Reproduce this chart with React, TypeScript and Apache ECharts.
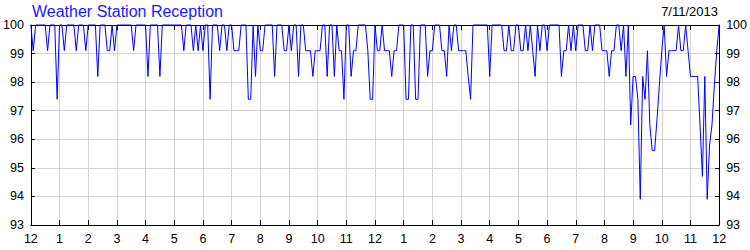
import React, { useEffect, useRef } from "react";
import * as echarts from "echarts";

const titleText = "Weather Station Reception";
const dateText = "7/11/2013";

const hourLabels = [
  "12", "1", "2", "3", "4", "5", "6", "7", "8", "9", "10", "11",
  "12", "1", "2", "3", "4", "5", "6", "7", "8", "9", "10", "11", "12",
];

const yMin = 93;
const yMax = 100;
const yStep = 1;

// reception % every 5 minutes, 12 per hour
const reception = [
  100, 99.1, 100, 100, 100, 100, 100, 99.1, 100, 100, 100, 97.4,
  100, 100, 99.1, 100, 100, 100, 100, 99.1, 100, 100, 100, 99.1,
  100, 100, 100, 100, 98.2, 100, 100, 100, 99.1, 99.1, 100, 99.1,
  100, 100, 100, 100, 100, 100, 100, 99.1, 100, 100, 100, 100,
  100, 98.2, 100, 100, 100, 100, 98.2, 100, 100, 100, 100, 100,
  100, 100, 100, 100, 99.1, 100, 100, 100, 99.1, 100, 99.1, 100,
  99.1, 100, 100, 97.4, 100, 100, 100, 99.1, 100, 100, 99.1, 100,
  100, 99.1, 99.1, 99.1, 100, 100, 100, 97.4, 97.4, 100, 98.2, 100,
  99.1, 99.1, 100, 100, 100, 100, 98.2, 100, 100, 100, 99.1, 99.1,
  100, 99.1, 100, 100, 98.2, 100, 100, 99.1, 99.1, 99.1, 98.2, 99.1,
  99.1, 99.1, 100, 100, 98.2, 100, 100, 98.2, 100, 99.1, 99.1, 97.4,
  100, 100, 98.2, 99.1, 99.1, 100, 100, 100, 100, 99.1, 97.4, 97.4,
  100, 99.1, 99.1, 100, 99.1, 99.1, 99.1, 98.2, 99.1, 99.1, 100, 100,
  100, 97.4, 97.4, 100, 100, 97.4, 97.4, 100, 100, 100, 98.2, 99.1,
  99.1, 100, 100, 100, 99.1, 99.1, 98.2, 100, 99.1, 100, 100, 99.1,
  99.1, 99.1, 99.1, 98.2, 97.4, 100, 100, 100, 100, 100, 100, 100,
  98.2, 100, 100, 100, 100, 100, 99.1, 99.1, 100, 99.1, 99.1, 100,
  100, 99.1, 99.1, 100, 99.1, 100, 99.1, 98.2, 100, 99.1, 100, 100,
  99.1, 100, 100, 100, 100, 100, 98.2, 99.1, 99.1, 100, 99.1, 100,
  99.1, 100, 100, 100, 99.1, 99.1, 100, 99.1, 100, 100, 100, 99.1,
  99.1, 99.1, 98.2, 99.1, 99.1, 100, 100, 99.1, 100, 98.2, 100, 96.5,
  98.2, 98.2, 97.4, 93.9, 98.2, 97.4, 99.1, 96.5, 95.6, 95.6, 96.7, 97.9,
  99.1, 100, 98.2, 99.1, 99.1, 99.1, 99.1, 100, 99.1, 99.1, 100, 99.1,
  98.2, 98.2, 98.2, 98.2, 96.5, 94.7, 98.2, 93.9, 95.8, 96.5, 97.9, 99.1,
  100,
];

const FONT = "'Liberation Sans', Arial, sans-serif";

export default function App() {
  const ref = useRef<HTMLDivElement>(null);

  useEffect(() => {
    if (!ref.current) return;
    const chart = echarts.init(ref.current, null, { renderer: "svg" });

    const categories = reception.map(
      (_, i) => `${hourLabels[Math.floor(i / 12)]}:${String((i % 12) * 5).padStart(2, "0")}`
    );
    const hourly = (i: number) => i % 12 === 0;

    const labelStyle = { color: "#000", fontSize: 12.5, fontFamily: FONT };

    const option: any = {
      animation: false,
      backgroundColor: "#fff",
      title: [
        {
          text: titleText,
          left: 32,
          top: 3,
          padding: 0,
          textStyle: { color: "#1a1aff", fontSize: 16, fontWeight: "normal", fontFamily: FONT },
        },
        {
          text: dateText,
          right: 32,
          top: 5,
          padding: 0,
          textStyle: { color: "#000", fontSize: 13, fontWeight: "normal", fontFamily: FONT },
        },
      ],
      grid: { left: 30, right: 30, top: 25, bottom: 25, containLabel: false },
      xAxis: [
        {
          type: "category",
          data: categories,
          boundaryGap: false,
          position: "bottom",
          axisLine: { show: true, onZero: false, lineStyle: { color: "#000", width: 1 } },
          axisTick: { show: true, inside: true, length: 5, interval: (i: number) => hourly(i), lineStyle: { color: "#000" } },
          axisLabel: {
            ...labelStyle,
            margin: 7,
            interval: (i: number) => hourly(i),
            formatter: (_v: string, i: number) => hourLabels[Math.floor(i / 12)],
          },
          splitLine: { show: true, interval: (i: number) => hourly(i), lineStyle: { color: "#d3d3d3", width: 1 } },
        },
        {
          type: "category",
          data: categories,
          boundaryGap: false,
          position: "top",
          axisLine: { show: true, onZero: false, lineStyle: { color: "#000", width: 1 } },
          axisTick: { show: true, inside: true, length: 5, interval: (i: number) => hourly(i), lineStyle: { color: "#000" } },
          axisLabel: { show: false },
          splitLine: { show: false },
        },
      ],
      yAxis: [
        {
          type: "value",
          min: yMin,
          max: yMax,
          interval: yStep,
          position: "left",
          axisLine: { show: true, onZero: false, lineStyle: { color: "#000", width: 1 } },
          axisTick: { show: true, inside: true, length: 4, lineStyle: { color: "#000" } },
          axisLabel: { ...labelStyle, margin: 7 },
          splitLine: { show: true, lineStyle: { color: "#d3d3d3", width: 1 } },
        },
        {
          type: "value",
          min: yMin,
          max: yMax,
          interval: yStep,
          position: "right",
          axisLine: { show: true, onZero: false, lineStyle: { color: "#000", width: 1 } },
          axisTick: { show: true, inside: true, length: 4, lineStyle: { color: "#000" } },
          axisLabel: { ...labelStyle, margin: 7 },
          splitLine: { show: false },
        },
      ],
      series: [
        {
          type: "line",
          data: reception,
          xAxisIndex: 0,
          yAxisIndex: 0,
          symbol: "none",
          showSymbol: false,
          clip: false,
          lineStyle: { color: "#0000ff", width: 1 },
          z: 5,
        },
      ],
    };

    chart.setOption(option);
    return () => chart.dispose();
  }, []);

  return (
    <div
      ref={ref}
      style={{ position: "absolute", left: 0, top: 0, width: 750, height: 250 }}
    />
  );
}
